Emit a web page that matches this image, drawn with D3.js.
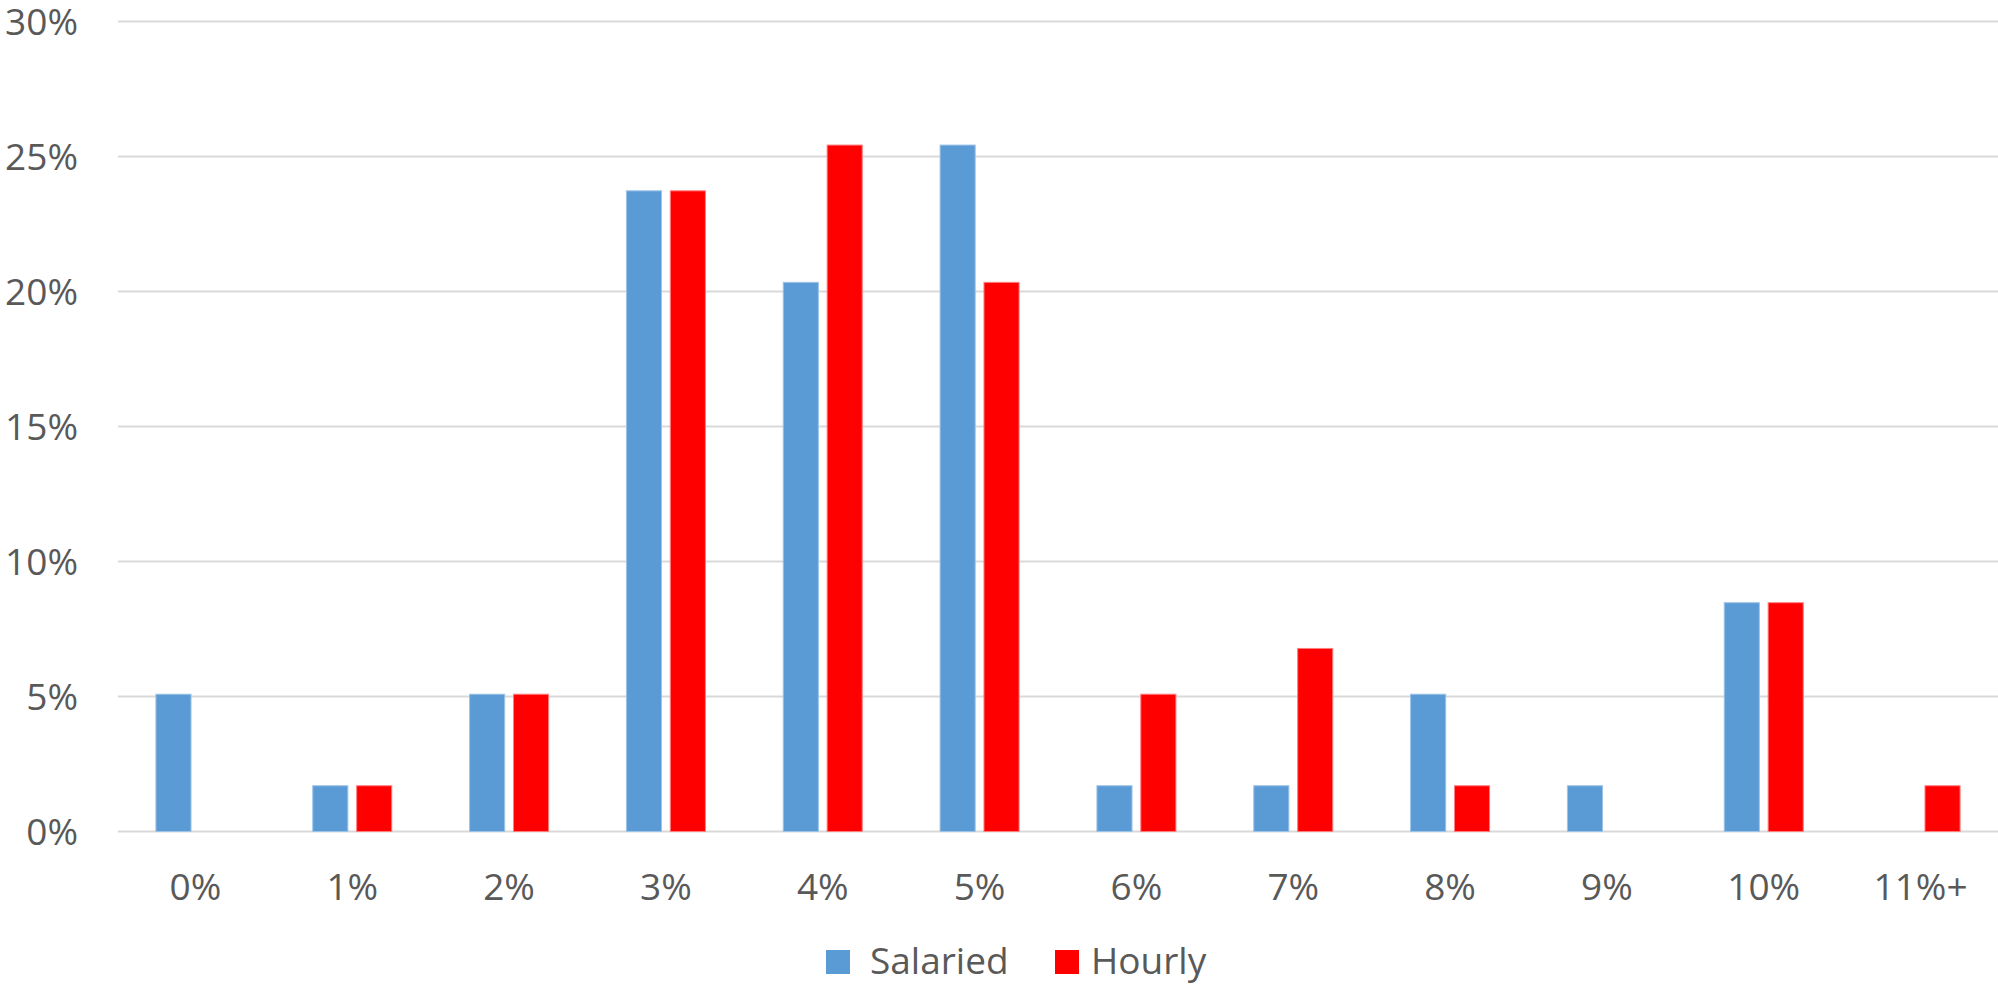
<!DOCTYPE html>
<html>
<head>
<meta charset="utf-8">
<script src="https://cdn.jsdelivr.net/npm/d3@7/dist/d3.min.js"></script>
<style>
  html, body { margin: 0; padding: 0; background: #fff; }
  svg { display: block; }
  text { font-family: "Open Sans", "Noto Sans", sans-serif; fill: #595959; }
</style>
</head>
<body>
<svg id="chart" width="1998" height="986"></svg>
<script>
// Raise size buckets and share of respondents (59 in each group), in percent
const categories = ["0%", "1%", "2%", "3%", "4%", "5%", "6%", "7%", "8%", "9%", "10%", "11%+"];
const seriesNames = ["Salaried", "Hourly"];
const salaried = [3, 1, 3, 14, 12, 15, 1, 1, 3, 1, 5, 0].map(n => n / 59 * 100);
const hourly   = [0, 1, 3, 14, 15, 12, 3, 4, 1, 0, 5, 1].map(n => n / 59 * 100);
const yTicks = [0, 5, 10, 15, 20, 25, 30];

const colors = { Salaried: "#5B9BD5", Hourly: "#FF0000" };
const strokes = { Salaried: "#9DC3E6", Hourly: "#FF7F7F" };

const svg = d3.select("#chart");

const x = d3.scaleBand().domain(categories).range([117, 1999]).padding(0);
const groupWidth = 79;
const xs = d3.scaleBand().domain(seriesNames)
  .range([x.bandwidth() / 2 - groupWidth / 2, x.bandwidth() / 2 + groupWidth / 2])
  .paddingInner(0.2).paddingOuter(0);
const y = d3.scaleLinear().domain([0, 30]).range([831.5, 21.5]);

// Horizontal gridlines
svg.append("g")
  .selectAll("line")
  .data(yTicks)
  .join("line")
  .attr("x1", 118).attr("x2", 1998)
  .attr("y1", d => y(d)).attr("y2", d => y(d))
  .attr("stroke", "#D9D9D9").attr("stroke-width", 2);

// Y axis labels
svg.append("g")
  .selectAll("text")
  .data(yTicks)
  .join("text")
  .attr("x", 78).attr("y", d => y(d))
  .attr("dy", "0.36em")
  .attr("text-anchor", "end")
  .attr("font-size", 37)
  .text(d => d + "%");

// Bars
const rows = categories.map((c, i) => ({ cat: c, Salaried: salaried[i], Hourly: hourly[i] }));
svg.append("g")
  .selectAll("g")
  .data(rows)
  .join("g")
  .attr("transform", d => `translate(${x(d.cat)},0)`)
  .selectAll("rect")
  .data(d => seriesNames.map(s => ({ s, v: d[s] })).filter(e => e.v > 0))
  .join("rect")
  .attr("x", d => xs(d.s))
  .attr("width", xs.bandwidth())
  .attr("y", d => y(d.v))
  .attr("height", d => y(0) - y(d.v))
  .attr("fill", d => colors[d.s])
  .attr("stroke", d => strokes[d.s])
  .attr("stroke-width", 1);

// X axis labels
svg.append("g")
  .selectAll("text")
  .data(categories)
  .join("text")
  .attr("x", d => x(d) + x.bandwidth() / 2)
  .attr("y", 887)
  .attr("dy", "0.36em")
  .attr("text-anchor", "middle")
  .attr("font-size", 37)
  .text(d => d);

// Legend
const legendItems = [
  { name: "Salaried", sx: 826, tx: 870 },
  { name: "Hourly", sx: 1055, tx: 1091 }
];
const legend = svg.append("g");
legend.selectAll("rect")
  .data(legendItems)
  .join("rect")
  .attr("x", d => d.sx).attr("y", 950)
  .attr("width", 24).attr("height", 24)
  .attr("fill", d => colors[d.name]);
legend.selectAll("text")
  .data(legendItems)
  .join("text")
  .attr("x", d => d.tx).attr("y", 974)
  .attr("font-size", 37)
  .text(d => d.name);
</script>
</body>
</html>
